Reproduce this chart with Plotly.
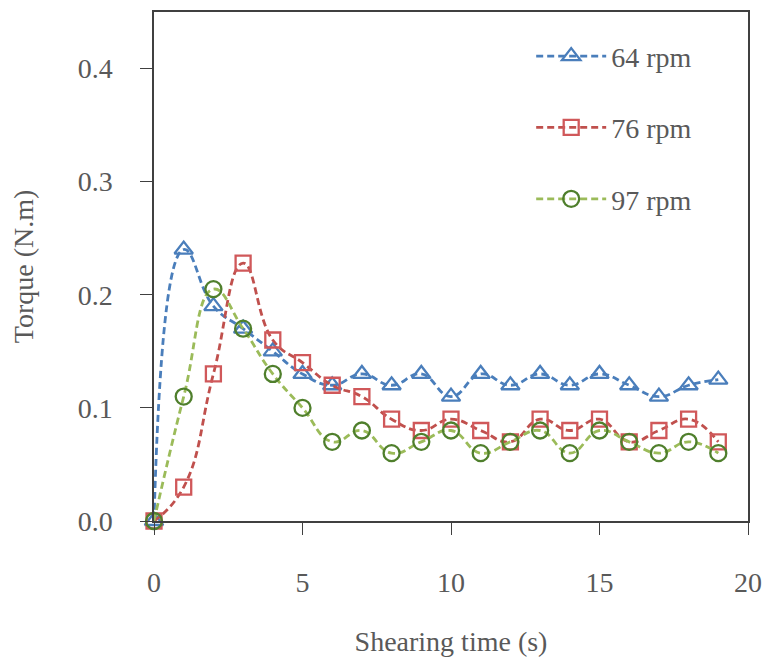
import plotly.graph_objects as go

time_s = list(range(20))
torque_64 = [0, 0.24, 0.19, 0.17, 0.15, 0.13, 0.12, 0.13, 0.12, 0.13, 0.11, 0.13, 0.12, 0.13, 0.12, 0.13, 0.12, 0.11, 0.12, 0.125]
torque_76 = [0, 0.03, 0.13, 0.228, 0.16, 0.14, 0.12, 0.11, 0.09, 0.08, 0.09, 0.08, 0.07, 0.09, 0.08, 0.09, 0.07, 0.08, 0.09, 0.07]
torque_97 = [0, 0.11, 0.205, 0.17, 0.13, 0.10, 0.07, 0.08, 0.06, 0.07, 0.08, 0.06, 0.07, 0.08, 0.06, 0.08, 0.07, 0.06, 0.07, 0.06]
series_names = ["64 rpm", "76 rpm", "97 rpm"]

FONT = "Liberation Serif, Times New Roman, serif"
TXT = "#595959"
FS = 28

styles = [
    dict(line="#4a7ebb", marker="#4a7ebb", symbol="triangle-up-open", size=16),
    dict(line="#c0504d", marker="#d0585a", symbol="square-open", size=15),
    dict(line="#9bbb59", marker="#4f7f2c", symbol="circle-open", size=16),
]

fig = go.Figure()
for i, (name, vals) in enumerate(zip(series_names, [torque_64, torque_76, torque_97])):
    s = styles[i]
    fig.add_trace(go.Scatter(
        x=time_s, y=vals, name=name, mode="lines+markers",
        legendgroup=name, cliponaxis=False,
        line=dict(color=s["line"], width=2.8, dash="7px,4px", shape="spline", smoothing=1.3),
        marker=dict(symbol=s["symbol"], size=s["size"], color=s["marker"],
                    line=dict(color=s["marker"], width=2.3)),
    ))

axis_common = dict(
    showline=True, linecolor="#404040", linewidth=1.5, mirror=True,
    ticks="outside", ticklen=12, tickwidth=1.2, tickcolor="#404040",
    showgrid=False, zeroline=False, automargin=False,
    tickfont=dict(family=FONT, size=FS, color=TXT),
)

fig.update_layout(
    width=766, height=658,
    margin=dict(l=154, r=18, t=12, b=137),
    paper_bgcolor="white", plot_bgcolor="white",
    font=dict(family=FONT, color=TXT),
    xaxis=dict(range=[0, 20], tickvals=[0, 5, 10, 15, 20], ticklabelstandoff=24,
               title=dict(text="Shearing time (s)", font=dict(family=FONT, size=FS, color=TXT), standoff=34),
               **axis_common),
    yaxis=dict(range=[0, 0.45], tickvals=[0, 0.1, 0.2, 0.3, 0.4], tickformat=".1f", ticklabelstandoff=22,
               title=dict(text="Torque (N.m)", font=dict(family=FONT, size=FS, color=TXT), standoff=36),
               **axis_common),
    legend=dict(x=0.635, y=0.962, xanchor="left", yanchor="top",
                font=dict(family=FONT, size=FS, color=TXT),
                tracegroupgap=32, itemwidth=70, bgcolor="rgba(0,0,0,0)"),
)

fig.write_html("out.html")
